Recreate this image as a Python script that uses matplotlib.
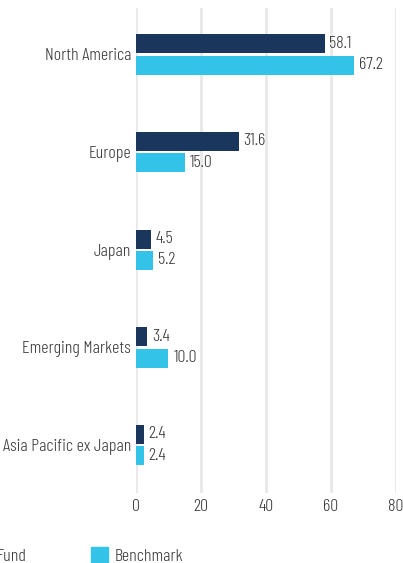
import numpy as np
import matplotlib
matplotlib.use("Agg")
import matplotlib.pyplot as plt
from matplotlib.patches import Rectangle

# data
regions = ["North America", "Europe", "Japan", "Emerging Markets", "Asia Pacific ex Japan"]
fund = [58.1, 31.6, 4.5, 3.4, 2.4]
benchmark = [67.2, 15.0, 5.2, 10.0, 2.4]
xticks = [0, 20, 40, 60, 80]

navy = "#1b365d"
cyan = "#33c3e8"
textc = "#3a3a3a"
fs = 13

plt.rcParams["font.family"] = ["Barlow Condensed", "DejaVu Sans"]
plt.rcParams["font.weight"] = 300

fig = plt.figure(figsize=(4.03, 5.63), dpi=100)
ax = fig.add_axes([136 / 403, 1 - 493 / 563, (395.7 - 136) / 403, (493 - 8) / 563])

y = np.arange(len(regions))
h = 0.194
off = 0.109
b1 = ax.barh(y - off, fund, height=h, color=navy, zorder=3)
b2 = ax.barh(y + off, benchmark, height=h, color=cyan, zorder=3)

for bars, vals in ((b1, fund), (b2, benchmark)):
    for bar, v in zip(bars, vals):
        ax.annotate(f"{v:.1f}", (bar.get_width(), bar.get_y() + bar.get_height() / 2),
                    xytext=(3.5, 0), textcoords="offset points", va="center", ha="left",
                    fontsize=fs, color=textc)

ax.set_xlim(0, 80)
ax.set_ylim(4.49, -0.475)
ax.set_xticks(xticks)
ax.set_yticks(y)
ax.set_yticklabels(regions)
ax.tick_params(length=0, labelsize=fs, labelcolor=textc)
ax.tick_params(axis="y", pad=3.5)
ax.tick_params(axis="x", pad=4)
ax.grid(axis="x", color="#e8e8e8", linewidth=2, zorder=0)
for s in ax.spines.values():
    s.set_visible(False)

# legend, partly off the left edge like the reference
fig.patches.append(Rectangle((-27 / 403, 1 - 564 / 563), 17 / 403, 17 / 563,
                             transform=fig.transFigure, color=navy, figure=fig))
fig.text(-3 / 403, 1 - 557 / 563, "Fund", fontsize=fs, color=textc, va="center", ha="left")
fig.patches.append(Rectangle((91 / 403, 1 - 564 / 563), 17 / 403, 17 / 563,
                             transform=fig.transFigure, color=cyan, figure=fig))
fig.text(115 / 403, 1 - 557 / 563, "Benchmark", fontsize=fs, color=textc, va="center", ha="left")

fig.savefig("out.png", dpi=100)
